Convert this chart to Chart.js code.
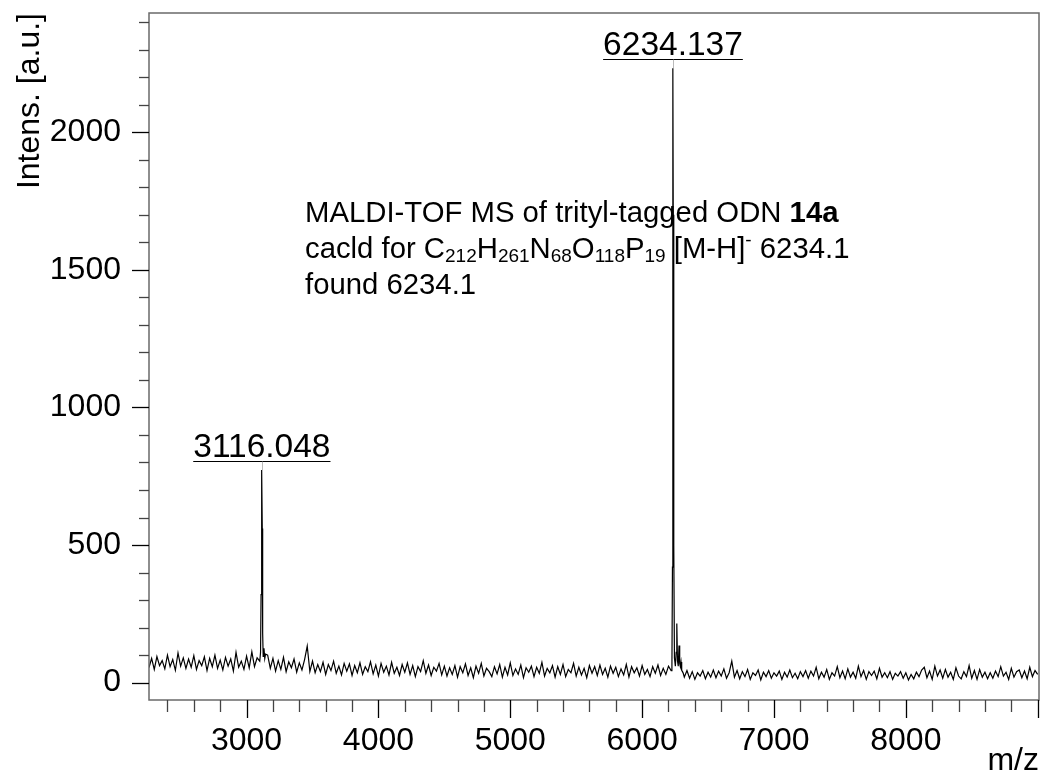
<!DOCTYPE html>
<html>
<head>
<meta charset="utf-8">
<script src="https://cdn.jsdelivr.net/npm/chart.js@4/dist/chart.umd.min.js"></script>
<style>
  html, body { margin: 0; padding: 0; background: #fff; }
</style>
</head>
<body>
<canvas id="ms" width="1044" height="778"></canvas>
<script>
// baseline spectrum, sampled every 20 m/z from 2260
const mzStart = 2260;
const mzStep = 20;
const noise = [
  55, 88, 48, 95, 62,   80, 50, 100, 58, 84,  45, 108, 60, 90, 52,  86, 56, 98, 48, 80,
  62, 94, 44, 88, 58,   100, 52, 82, 46, 92,  60, 86, 42, 110, 56,  78, 48, 96, 54, 112,
  58, 90, 80, 90, 110,
  100, 52, 88, 42, 80,  48, 92, 40, 76, 54,   86, 38, 72, 46, 84,   133, 40, 78, 36, 66,
  40, 74, 30, 66, 44,   78, 34, 60, 28, 70,   42, 68, 26, 62, 36,   72, 30, 58, 40, 76,
  32, 64, 24, 70, 38,   60, 28, 74, 34, 56,   26, 66, 38, 72, 30,   62, 22, 58, 40, 80,
  34, 64, 26, 56, 42,   70, 28, 60, 24, 54,
  30, 62, 20, 58, 36,   68, 26, 54, 18, 60,   34, 70, 24, 52, 40,   22, 58, 32, 66, 20,
  56, 28, 72, 26, 50,   30, 64, 18, 54, 38,   60, 22, 56, 34, 74,   24, 52, 36, 62, 20,
  58, 30, 66, 22, 48,   36, 70, 24, 56, 28,   52, 18, 62, 34, 58,   26, 64, 30, 52, 20,
  60, 34, 56, 22, 50,   28, 66, 20, 58, 36,   54, 24, 62, 30, 48,   22, 58, 34, 64, 26,
  52, 30, 60, 36, 40,
  40, 40, 40, 20, 44,   16, 40, 12, 36, 24,   44, 14, 38, 20, 46,   18, 42, 24, 50, 16,
  36, 78, 20, 44, 14,   40, 22, 48, 12, 36,   26, 46, 10, 38, 22,   44, 16, 36, 24, 42,
  12, 38, 20, 46, 18,   34, 14, 40, 22, 44,   16, 42, 24, 56, 14,   38, 20, 48, 12, 36,
  24, 58, 18, 42, 14,   50, 20, 38, 16, 60,   22, 44, 12, 40, 26,   42, 14, 52, 20, 36,
  18, 40, 12, 34, 24,   40, 16, 36, 10, 30,   14, 38, 22, 46, 56,   18, 42, 12, 60, 24,
  46, 16, 48, 20, 38,   12, 54, 24, 14, 40,   22, 62, 16, 44, 12,   48, 20, 38, 14, 36,
  16, 42, 22, 58, 24,   38, 12, 52, 20, 40,   46, 18, 42, 14, 56,   22, 44, 30
];

// finer sampling across the two peaks
const peakMz = [3100, 3106, 3110, 3113, 3116, 3119, 3122, 3126, 3132, 3138, 3144,
  6220, 6226, 6230, 6232, 6234, 6236, 6240, 6245, 6252, 6258, 6263, 6268, 6274, 6280,
  6285, 6290, 6295, 6300, 6306, 6312];
const peakInt = [78, 110, 320, 640, 773, 560, 180, 95, 125, 88, 104,
  44, 60, 420, 1500, 2232, 1700, 500, 90, 60, 110, 215, 80, 60, 135,
  70, 58, 75, 45, 40, 34];
const peakWindows = [[3096, 3146], [6216, 6316]];

// labelled peaks
const labelMz = [3116, 6234];
const labelInt = [773, 2232];
const labelText = ['3116.048', '6234.137'];

const xMin = 2260, xMax = 9010;
const yMin = -63, yMax = 2433;
const xTickValues = [3000, 4000, 5000, 6000, 7000, 8000];
const yTickValues = [0, 500, 1000, 1500, 2000];
const xMinorStep = 200, yMinorStep = 100;

// annotation lines: [text, style]
const noteLines = [
  [['MALDI-TOF MS of trityl-tagged ODN ', 'n'], ['14a', 'b']],
  [['cacld for C', 'n'], ['212', 'sub'], ['H', 'n'], ['261', 'sub'], ['N', 'n'], ['68', 'sub'],
   ['O', 'n'], ['118', 'sub'], ['P', 'n'], ['19', 'sub'], [' [M-H]', 'n'], ['-', 'sup'], [' 6234.1', 'n']],
  [['found 6234.1', 'n']]
];

const FONT = "'Liberation Sans', Arial, sans-serif";

const points = [];
noise.forEach((v, i) => {
  const m = mzStart + i * mzStep;
  if (!peakWindows.some(w => m >= w[0] && m <= w[1])) points.push({x: m, y: v});
});
peakMz.forEach((m, i) => points.push({x: m, y: peakInt[i]}));
points.sort((a, b) => a.x - b.x);

const msDecor = {
  id: 'msDecor',
  afterDraw(chart) {
    const {ctx, chartArea: a, scales: {x, y}} = chart;
    ctx.save();

    // frame
    ctx.strokeStyle = '#6a6a6a';
    ctx.lineWidth = 1.5;
    ctx.strokeRect(a.left, a.top, a.right - a.left, a.bottom - a.top);

    // x ticks
    for (let v = Math.ceil(xMin / xMinorStep) * xMinorStep; v <= xMax; v += xMinorStep) {
      const px = Math.round(x.getPixelForValue(v)) + 0.5;
      const major = v % 1000 === 0;
      ctx.strokeStyle = major ? '#000' : '#444';
      ctx.lineWidth = 1.3;
      ctx.beginPath();
      ctx.moveTo(px, a.bottom);
      ctx.lineTo(px, a.bottom + (major ? 18 : 12));
      ctx.stroke();
    }
    // y ticks
    for (let v = Math.ceil(yMin / yMinorStep) * yMinorStep; v <= yMax; v += yMinorStep) {
      const py = Math.round(y.getPixelForValue(v)) + 0.5;
      const major = v % 500 === 0;
      ctx.strokeStyle = major ? '#000' : '#444';
      ctx.lineWidth = 1.3;
      ctx.beginPath();
      ctx.moveTo(a.left, py);
      ctx.lineTo(a.left - (major ? 17 : 10), py);
      ctx.stroke();
    }

    // peak labels
    ctx.font = '33.5px ' + FONT;
    ctx.fillStyle = '#000';
    ctx.textAlign = 'center';
    ctx.textBaseline = 'alphabetic';
    labelMz.forEach((m, i) => {
      const px = x.getPixelForValue(m);
      const top = y.getPixelForValue(labelInt[i]);
      const ly = Math.round(top - 9) + 0.5;
      const w = ctx.measureText(labelText[i]).width;
      ctx.fillText(labelText[i], px, ly - 5);
      ctx.strokeStyle = '#000';
      ctx.lineWidth = 1;
      ctx.beginPath();
      ctx.moveTo(px - w / 2, ly);
      ctx.lineTo(px + w / 2, ly);
      ctx.stroke();
      ctx.strokeStyle = '#777';
      ctx.setLineDash([1, 1]);
      ctx.beginPath();
      ctx.moveTo(Math.round(px) + 0.5, ly);
      ctx.lineTo(Math.round(px) + 0.5, top);
      ctx.stroke();
      ctx.setLineDash([]);
    });

    // annotation
    ctx.textAlign = 'left';
    const baselines = [222, 258, 294];
    noteLines.forEach((line, li) => {
      let cx = 305;
      line.forEach(([t, s]) => {
        let f = '29.3px ' + FONT, dy = 0;
        if (s === 'b') f = 'bold 29.3px ' + FONT;
        if (s === 'sub') { f = '19px ' + FONT; dy = 4; }
        if (s === 'sup') { f = '19px ' + FONT; dy = -12; }
        ctx.font = f;
        ctx.fillText(t, cx, baselines[li] + dy);
        cx += ctx.measureText(t).width;
      });
    });
    ctx.restore();
  }
};

new Chart(document.getElementById('ms').getContext('2d'), {
  type: 'line',
  data: {
    datasets: [{
      data: points,
      borderColor: '#000',
      borderWidth: 1.2,
      pointRadius: 0,
      tension: 0,
      fill: false
    }]
  },
  options: {
    responsive: false,
    devicePixelRatio: 1,
    animation: false,
    layout: { padding: { left: 0, top: 13, right: 5, bottom: 0 } },
    plugins: { legend: { display: false }, tooltip: { enabled: false } },
    scales: {
      x: {
        type: 'linear',
        min: xMin,
        max: xMax,
        afterBuildTicks: s => { s.ticks = xTickValues.map(v => ({value: v})); },
        afterFit: s => { s.height = 78; s.paddingLeft = 0; s.paddingRight = 0; },
        border: { display: false },
        grid: { drawOnChartArea: false, drawTicks: true, tickLength: 18, color: 'rgba(0,0,0,0)' },
        ticks: {
          maxRotation: 0,
          autoSkip: false,
          padding: 4,
          color: '#000',
          font: { family: FONT, size: 32 },
          callback: v => String(v)
        },
        title: {
          display: true,
          text: 'm/z',
          align: 'end',
          color: '#000',
          font: { family: FONT, size: 32, lineHeight: 1 },
          padding: { top: 0, bottom: 1 }
        }
      },
      y: {
        type: 'linear',
        min: yMin,
        max: yMax,
        afterBuildTicks: s => { s.ticks = yTickValues.map(v => ({value: v})); },
        afterFit: s => { s.width = 149; s.paddingTop = 0; s.paddingBottom = 0; },
        border: { display: false },
        grid: { drawOnChartArea: false, drawTicks: true, tickLength: 17, color: 'rgba(0,0,0,0)' },
        ticks: {
          autoSkip: false,
          padding: 11,
          color: '#000',
          font: { family: FONT, size: 32 },
          callback: v => String(v)
        },
        title: {
          display: true,
          text: 'Intens. [a.u.]',
          align: 'end',
          color: '#000',
          font: { family: FONT, size: 32, lineHeight: 1 },
          padding: { top: 14, bottom: 0 }
        }
      }
    }
  },
  plugins: [msDecor]
});
</script>
</body>
</html>
